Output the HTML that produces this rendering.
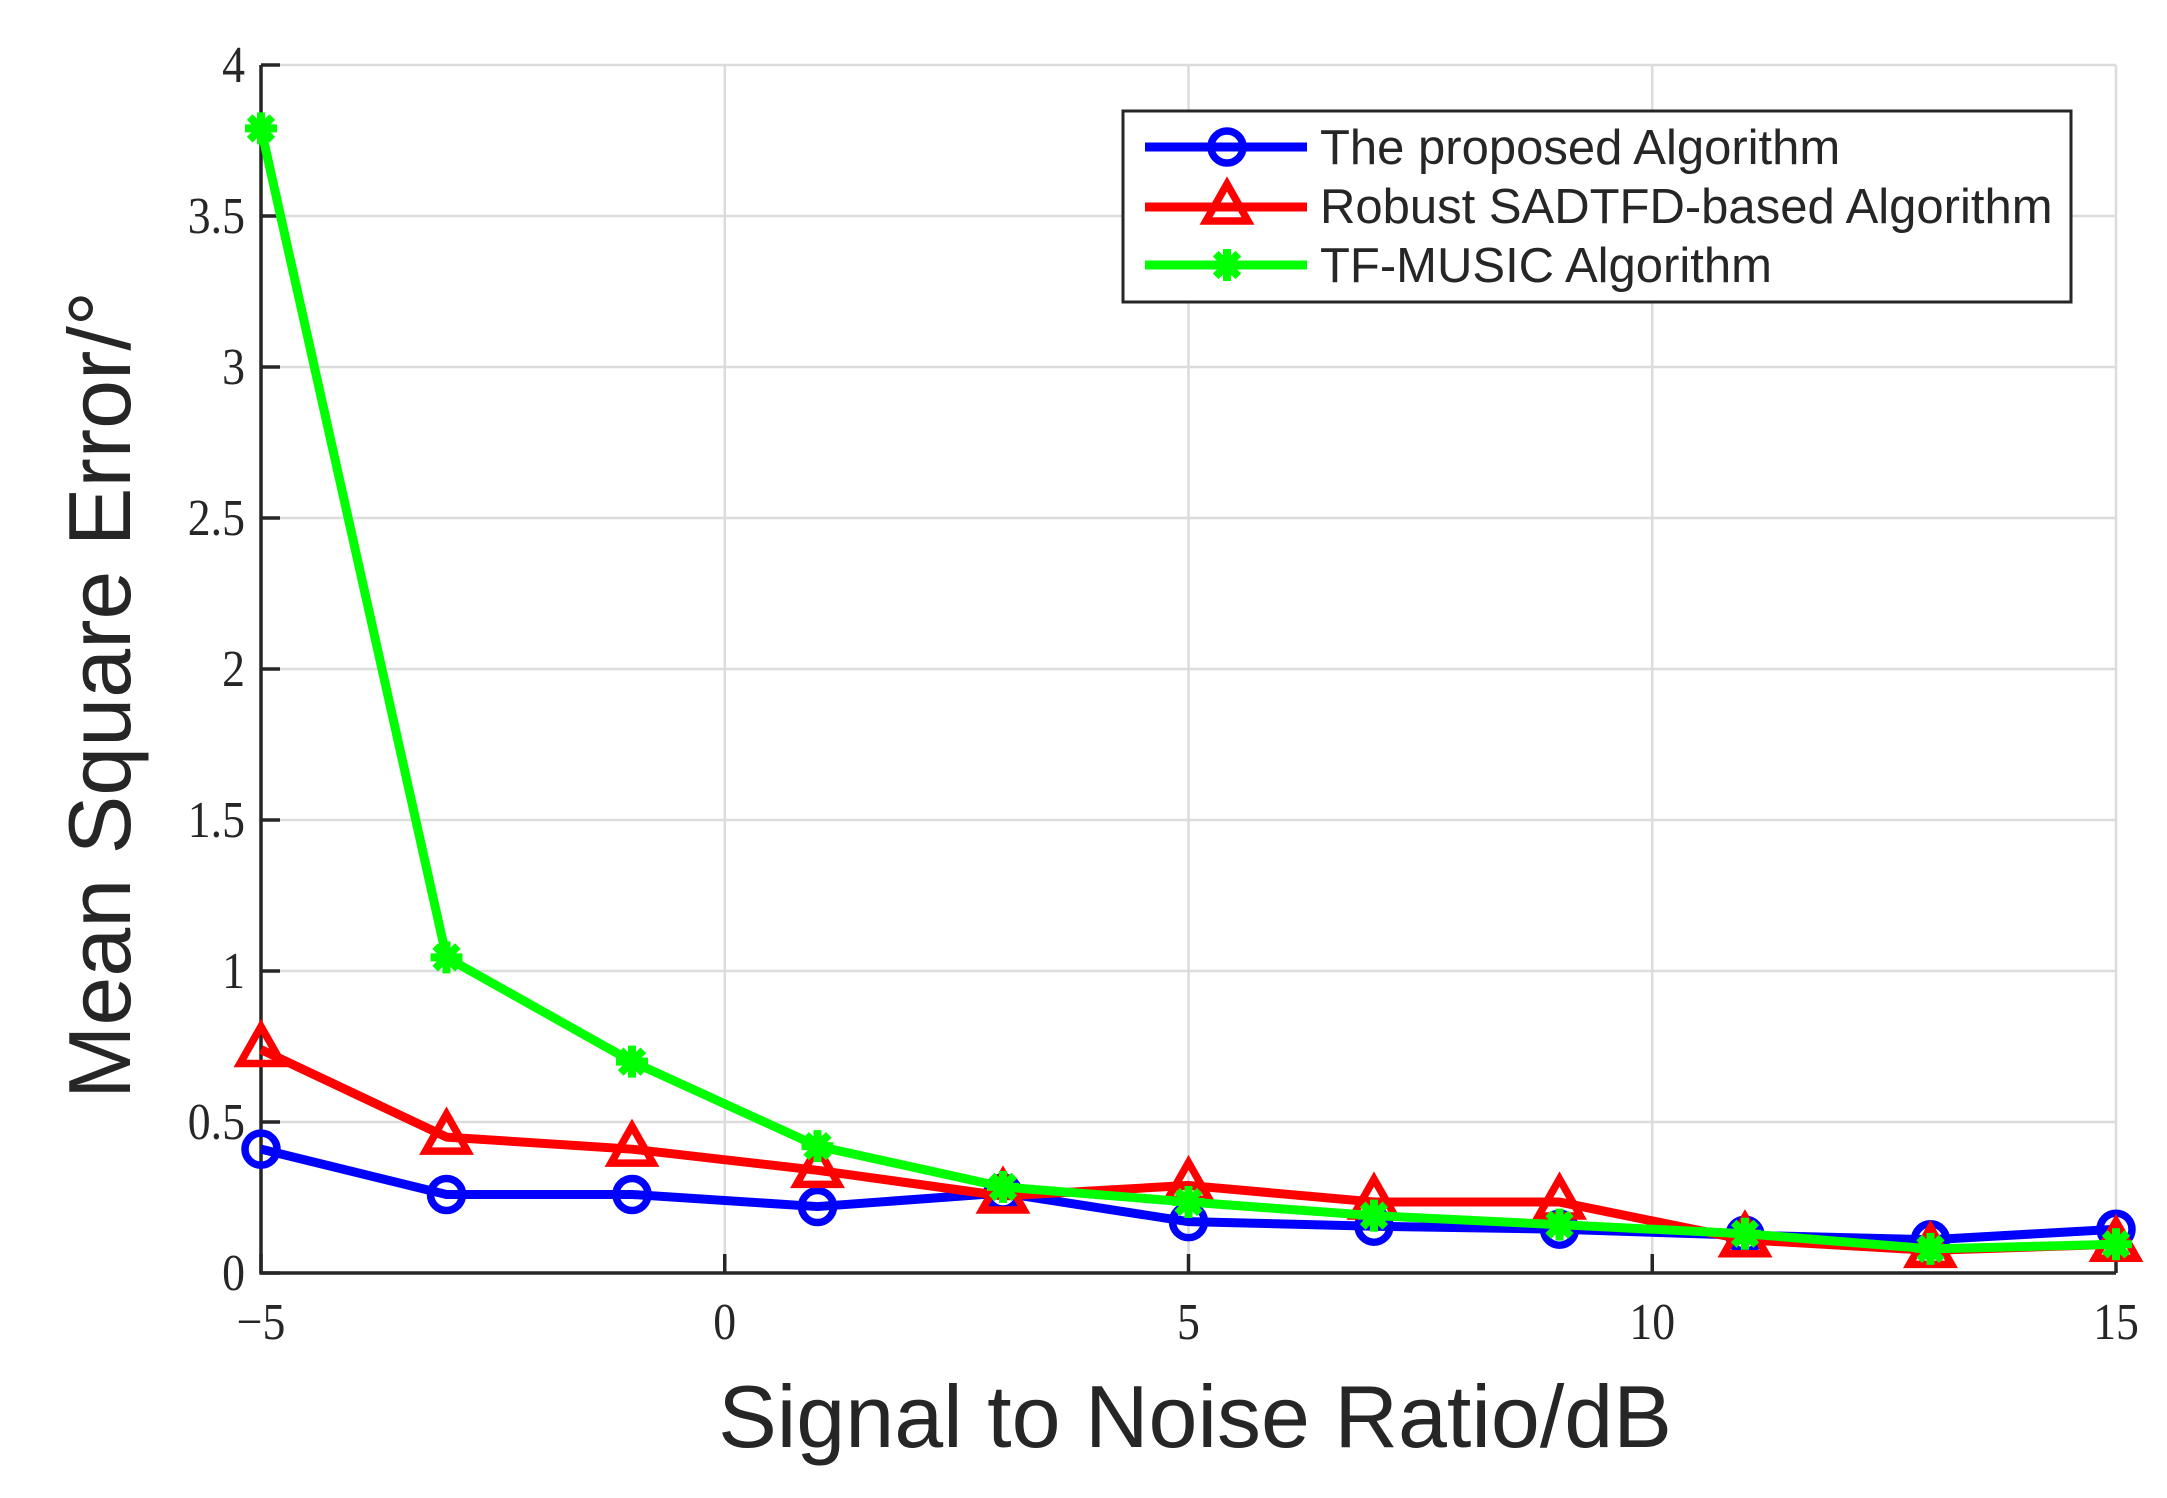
<!DOCTYPE html>
<html><head><meta charset="utf-8"><style>
html,body{margin:0;padding:0;background:#fff;width:2167px;height:1498px;overflow:hidden}
svg{display:block}
.t{font-family:"Liberation Serif",serif;font-size:52px;fill:#262626}
.s{font-family:"Liberation Sans",sans-serif;fill:#262626}
</style></head><body>
<svg id="c" width="2167" height="1498" xmlns="http://www.w3.org/2000/svg">
<rect width="2167" height="1498" fill="#fff"/>
<g id="grid" stroke="#dcdcdc" stroke-width="2.5"></g>
<g id="axes" stroke="#262626" stroke-width="3.5" fill="none"></g>
<g id="ticks"></g>
<g id="series"></g>
<text class="s" font-size="88" text-anchor="middle" x="1195" y="1447">Signal to Noise Ratio/dB</text>
<text class="s" font-size="88" text-anchor="middle" transform="translate(130,695) rotate(-90)">Mean Square Error/°</text>
<g id="legend">
<rect x="1123" y="111" width="948" height="191" fill="#fff" stroke="#262626" stroke-width="3"/>
<text class="s" font-size="49" x="1320" y="164">The proposed Algorithm</text>
<text class="s" font-size="49" x="1320" y="223">Robust SADTFD-based Algorithm</text>
<text class="s" font-size="49" x="1320" y="282">TF-MUSIC Algorithm</text>
</g>
</svg>
<script>
const NS="http://www.w3.org/2000/svg";
const X0=261,XU=92.75,Y0=1273,YU=302;
const px=x=>X0+(x+5)*XU, py=y=>Y0-y*YU;
function el(p,t,a){const e=document.createElementNS(NS,t);for(const k in a)e.setAttribute(k,a[k]);p.appendChild(e);return e;}
const g=document.getElementById('grid'),ax=document.getElementById('axes'),tk=document.getElementById('ticks'),se=document.getElementById('series'),lg=document.getElementById('legend');
[0,5,10].forEach(x=>el(g,'line',{x1:px(x),x2:px(x),y1:py(4),y2:py(0)}));
el(g,'line',{x1:px(15),x2:px(15),y1:py(4),y2:py(0)});
for(let i=1;i<=8;i++){const y=i*0.5;el(g,'line',{x1:px(-5),x2:px(15),y1:py(y),y2:py(y)});}
el(ax,'line',{x1:px(-5),x2:px(-5),y1:py(4),y2:py(0)+1.5});
el(ax,'line',{x1:px(-5)-1.5,x2:px(15),y1:py(0),y2:py(0)});
for(let i=0;i<=8;i++){const y=i*0.5;el(ax,'line',{x1:px(-5),x2:px(-5)+19,y1:py(y),y2:py(y)});
 const t=el(tk,'text',{class:'t','text-anchor':'end',x:px(-5)-16,y:py(y)+17,transform:`translate(${(px(-5)-16)*0.12},0) scale(0.88,1)`});t.textContent=(i==0?'0':(y%1==0?y:y.toFixed(1)));}
[-5,0,5,10,15].forEach(x=>{el(ax,'line',{x1:px(x),x2:px(x),y1:py(0),y2:py(0)-19});
 const t=el(tk,'text',{class:'t','text-anchor':'middle',x:px(x)/0.88,y:1339,transform:'scale(0.88,1)'});t.textContent=x<0?'\u2212'+(-x):x;});
const xs=[-5,-3,-1,1,3,5,7,9,11,13,15];
const blue=[0.41,0.26,0.26,0.22,0.265,0.17,0.155,0.145,0.125,0.11,0.145];
const red=[0.74,0.45,0.41,0.34,0.255,0.29,0.235,0.235,0.11,0.075,0.095];
const green=[3.79,1.045,0.70,0.42,0.285,0.235,0.19,0.16,0.13,0.08,0.095];
function circ(p,x,y){el(p,'circle',{cx:x,cy:y,r:16,fill:'none',stroke:'#0000ff','stroke-width':7.5});}
function tri(p,x,y){el(p,'polygon',{points:`${x},${y-23} ${x+21},${y+14} ${x-21},${y+14}`,fill:'none',stroke:'#ff0000','stroke-width':7.5,'stroke-linejoin':'miter'});}
function star(p,x,y){for(let a=0;a<180;a+=45){const r=a*Math.PI/180,dx=Math.cos(r)*16,dy=Math.sin(r)*16;el(p,'line',{x1:x-dx,y1:y-dy,x2:x+dx,y2:y+dy,stroke:'#00ff00','stroke-width':8});}
 el(p,'circle',{cx:x,cy:y,r:10,fill:'#00ff00'});}
function series(d,c,m){el(se,'polyline',{points:xs.map((x,i)=>px(x)+','+py(d[i])).join(' '),fill:'none',stroke:c,'stroke-width':9,'stroke-linejoin':'round'});
 xs.forEach((x,i)=>m(se,px(x),py(d[i])));}
series(blue,'#0000ff',circ);series(red,'#ff0000',tri);series(green,'#00ff00',star);
[[147,'#0000ff',circ],[207,'#ff0000',tri],[265,'#00ff00',star]].forEach(([y,c,m])=>{el(lg,'line',{x1:1145,x2:1307,y1:y,y2:y,stroke:c,'stroke-width':9});m(lg,1227,y);});
</script>
</body></html>
